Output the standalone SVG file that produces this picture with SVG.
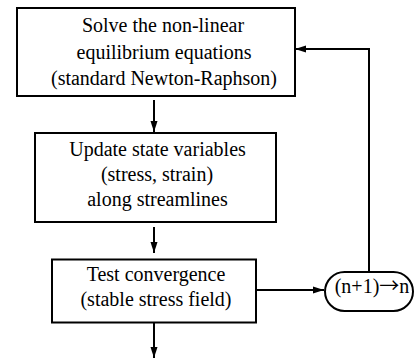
<svg xmlns="http://www.w3.org/2000/svg" width="414" height="359" viewBox="0 0 414 359">
  <style>
    .box { fill: #ffffff; stroke: #000000; stroke-width: 2; }
    .lbl { font-family: "Liberation Serif", "Times New Roman", serif; font-size: 20px; fill: #000000; text-anchor: middle; }
    .sym { font-family: "Noto Sans CJK JP", "DejaVu Sans", sans-serif; }
    .wire { fill: none; stroke: #000000; stroke-width: 2; }
  </style>
  <defs>
    <marker id="arrow" markerUnits="userSpaceOnUse" markerWidth="12" markerHeight="10" refX="11" refY="4" orient="auto">
      <path d="M0,0.5 L11,4 L0,7.5 Z" fill="#000000"/>
    </marker>
  </defs>

  <rect width="414" height="359" fill="#ffffff"/>

  <!-- flow connectors -->
  <g id="connectors">
    <line class="wire" x1="154" y1="100" x2="154" y2="132" marker-end="url(#arrow)"/>
    <line class="wire" x1="154" y1="227" x2="154" y2="253" marker-end="url(#arrow)"/>
    <line class="wire" x1="154" y1="322" x2="154" y2="358" marker-end="url(#arrow)"/>
    <line class="wire" x1="256" y1="290" x2="324" y2="290" marker-end="url(#arrow)"/>
    <polyline class="wire" points="369,272 369,49 295,49" marker-end="url(#arrow)"/>
  </g>

  <!-- solver step -->
  <g id="solve">
    <rect class="box" x="17" y="8" width="278" height="88"/>
    <text class="lbl" x="163" y="32">Solve the non-linear</text>
    <text class="lbl" x="164" y="59">equilibrium equations</text>
    <text class="lbl" x="164" y="85">(standard Newton-Raphson)</text>
  </g>

  <!-- state update step -->
  <g id="update">
    <rect class="box" x="35" y="133" width="241" height="89"/>
    <text class="lbl" x="157.5" y="156">Update state variables</text>
    <text class="lbl" x="157" y="181">(stress, strain)</text>
    <text class="lbl" x="157.5" y="206">along streamlines</text>
  </g>

  <!-- convergence check -->
  <g id="converge">
    <rect class="box" x="52" y="259.5" width="204" height="63"/>
    <text class="lbl" x="156" y="281">Test convergence</text>
    <text class="lbl" x="156" y="306">(stable stress field)</text>
  </g>

  <!-- increment counter -->
  <g id="increment">
    <rect class="box" x="325" y="272" width="88" height="39" rx="19.5" ry="19.5"/>
    <text class="lbl" x="372" y="293">(n+1)<tspan class="sym">→</tspan>n</text>
  </g>
</svg>
